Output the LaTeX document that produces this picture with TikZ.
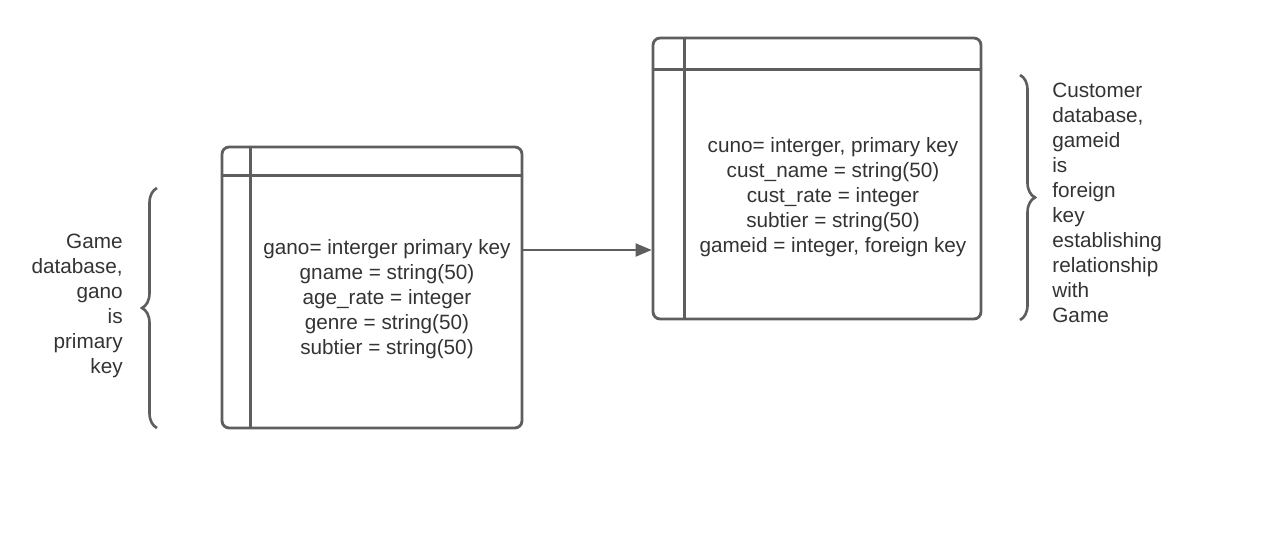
\documentclass[tikz,border=0pt]{standalone}
\usepackage{fontspec}
\setmainfont{Liberation Sans}
\usetikzlibrary{arrows.meta,decorations.pathreplacing}
\definecolor{erLine}{HTML}{5E5E5E}
\definecolor{erText}{HTML}{333333}

\tikzset{
  tablebox/.style={draw=erLine, line width=1.6pt, rounded corners=4pt, inner sep=0pt},
  tableline/.style={draw=erLine, line width=1.6pt},
  fields/.style={text=erText, align=center, font=\fontsize{11.8}{14.2}\selectfont},
  note/.style={text=erText, inner sep=0pt, font=\fontsize{11.8}{14.2}\selectfont},
  link/.style={draw=erLine, line width=1.1pt, -{Triangle[length=0.32cm,width=0.26cm]}},
  bracket/.style={draw=erLine, line width=1.5pt, decorate, decoration={brace, amplitude=0.3cm}}
}

\begin{document}
\begin{tikzpicture}[x=0.02cm, y=-0.02cm]
  \useasboundingbox (0,0) rectangle (1275,547);

  % Game table
  \node[tablebox, minimum width=6cm, minimum height=5.62cm] (game) at (372,287.5) {};
  \draw[tableline] ([yshift=-0.6cm]game.north west) -- ([yshift=-0.6cm]game.north east);
  \draw[tableline] ([xshift=0.6cm]game.north west) -- ([xshift=0.6cm]game.south west);
  \node[fields] (gamefields) at (387,299) {gano= interger primary key\\gname = string(50)\\age\_rate = integer\\genre = string(50)\\subtier = string(50)};

  % Customer table
  \node[tablebox, minimum width=6.56cm, minimum height=5.62cm] (cust) at (817,178.5) {};
  \draw[tableline] ([yshift=-0.66cm]cust.north west) -- ([yshift=-0.66cm]cust.north east);
  \draw[tableline] ([xshift=0.66cm]cust.north west) -- ([xshift=0.66cm]cust.south west);
  \node[fields] (custfields) at (833,197.5) {cuno= interger, primary key\\cust\_name = string(50)\\cust\_rate = integer\\subtier = string(50)\\gameid = integer, foreign key};

  % relationship
  \coordinate (fk) at (522,250);
  \draw[link] (game.east |- fk) -- (cust.west |- fk);

  % notes
  \node[note, align=right, anchor=east] (gamenote) at (123,306) {Game\\database,\\gano\\is\\primary\\key};
  \draw[bracket] (157,428) -- (157,188);
  \node[note, align=left, anchor=west] (custnote) at (1052,203) {Customer\\database,\\gameid\\is\\foreign\\key\\establishing\\relationship\\with\\Game};
  \draw[bracket] (1020,75) -- (1020,320);
\end{tikzpicture}
\end{document}
